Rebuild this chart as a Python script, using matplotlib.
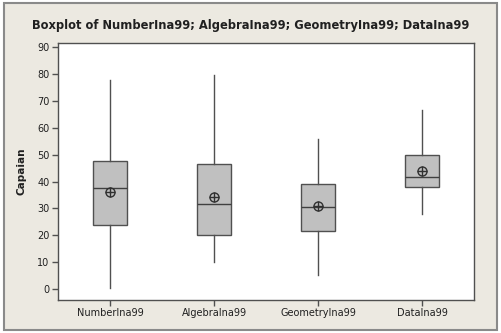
import matplotlib
matplotlib.use("Agg")
import matplotlib.pyplot as plt
from matplotlib.patches import Rectangle

categories = ["NumberIna99", "AlgebraIna99", "GeometryIna99", "DataIna99"]
whislo = [0.5, 10.2, 5.3, 27.9]
q1 = [23.9, 20.0, 21.5, 37.9]
med = [37.6, 31.5, 30.4, 41.6]
q3 = [47.5, 46.4, 39.1, 50.0]
whishi = [77.8, 79.7, 55.7, 66.5]
means = [36.1, 34.3, 30.8, 43.8]
yticks = [0, 10, 20, 30, 40, 50, 60, 70, 80, 90]

W, H = 501, 333
fig = plt.figure(figsize=(W / 100, H / 100), dpi=100)
fig.patch.set_facecolor("white")
fig.patches.append(Rectangle((4 / W, 3 / H), 493 / W, 327 / H, transform=fig.transFigure,
                             facecolor="#ECE9E1", edgecolor="#8A8A8A", linewidth=1.5, zorder=-10))

ax = fig.add_axes([58 / W, 1 - 300 / H, 416 / W, 257 / H])
ax.set_zorder(1)
ax.set_facecolor("white")

stats = []
for i, c in enumerate(categories):
    stats.append(dict(label=c, whislo=whislo[i], q1=q1[i], med=med[i], q3=q3[i],
                      whishi=whishi[i], mean=means[i], fliers=[]))

ax.bxp(stats, positions=range(1, len(categories) + 1), widths=0.33, patch_artist=True,
       showmeans=False, showcaps=False,
       boxprops=dict(facecolor="#C0C0C0", edgecolor="#505050", linewidth=1.0),
       medianprops=dict(color="#404040", linewidth=1.0),
       whiskerprops=dict(color="#505050", linewidth=1.0))

xs = range(1, len(categories) + 1)
ax.plot(xs, means, linestyle="none", marker="o", markersize=6.5, markerfacecolor="none",
        markeredgecolor="#303030", markeredgewidth=1.0, zorder=5)
ax.plot(xs, means, linestyle="none", marker="+", markersize=6.5, markeredgecolor="#303030",
        markeredgewidth=1.0, zorder=5)

ax.set_xlim(0.5, 4.5)
ax.set_ylim(-4.1, 91.6)
ax.set_yticks(yticks)
ax.set_xticks(list(xs))
ax.set_xticklabels(categories)
for s in ax.spines.values():
    s.set_color("#505050")
    s.set_linewidth(1.0)
ax.tick_params(axis="both", direction="out", length=4, width=1, color="#505050",
               labelsize=7, labelcolor="#202020", pad=2)

ax.set_ylabel("Capaian", fontsize=7.5, fontweight="bold", color="#202020", labelpad=8)
fig.text(0.5, 1 - 25 / H, "Boxplot of NumberIna99; AlgebraIna99; GeometryIna99; DataIna99",
         ha="center", va="center", fontsize=8.3, fontweight="bold", color="#202020")

fig.savefig("out.png", dpi=100, facecolor=fig.get_facecolor())
